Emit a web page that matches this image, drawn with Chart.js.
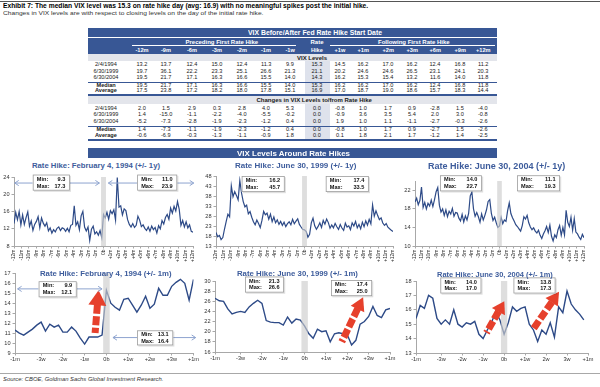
<!DOCTYPE html>
<html><head><meta charset="utf-8">
<script src="https://cdn.jsdelivr.net/npm/chart.js@4.4.0/dist/chart.umd.min.js"></script>
<style>
html,body{margin:0;padding:0;width:600px;height:387px;overflow:hidden;background:#fff;}
.a{position:absolute;white-space:nowrap;font-family:"Liberation Sans",Arial,sans-serif;}
canvas{position:absolute;}
</style></head><body>
<script>
// ---------------- DATA ----------------
const tableCols = ['-12m','-9m','-6m','-3m','-2m','-1m','-1w','Hike','+1w','+1m','+2m','+3m','+6m','+9m','+12m'];
const rowLabels = ['2/4/1994','6/30/1999','6/30/2004','Median','Average'];
const levels1994 = [13.2,13.7,12.4,15.0,12.4,11.3,9.9,15.3,14.5,16.2,17.0,16.2,12.4,16.8,11.2];
const levels1999 = [19.7,36.1,22.2,23.3,25.1,26.6,21.3,21.1,20.2,24.6,24.6,26.5,23.1,24.1,20.3];
const levels2004 = [19.5,21.7,17.1,16.3,16.6,15.5,14.0,14.3,16.2,15.3,15.4,13.2,11.6,14.0,11.8];
const levelsMedian = [19.5,21.7,17.1,16.3,16.6,15.5,14.0,15.3,16.2,16.2,17.0,16.2,12.4,16.8,11.8];
const levelsAverage = [17.5,23.8,17.2,18.2,18.0,17.8,15.1,16.9,17.0,18.7,19.0,18.6,15.7,18.3,14.4];
const changes1994 = [2.0,1.5,2.9,0.3,2.8,4.0,5.3,0.0,-0.8,1.0,1.7,0.9,-2.8,1.5,-4.0];
const changes1999 = [1.4,-15.0,-1.1,-2.2,-4.0,-5.5,-0.2,0.0,-0.9,3.6,3.5,5.4,2.0,3.0,-0.8];
const changes2004 = [-5.2,-7.3,-2.8,-1.9,-2.3,-1.2,0.4,0.0,1.9,1.0,1.1,-1.1,-2.7,-0.3,-2.6];
const changesMedian = [1.4,-7.3,-1.1,-1.9,-2.3,-1.2,0.4,0.0,-0.8,1.0,1.7,0.9,-2.7,1.5,-2.6];
const changesAverage = [-0.6,-6.9,-0.3,-1.3,-1.1,-0.9,1.8,0.0,0.1,1.8,2.1,1.7,-1.2,1.4,-2.5];

// weekly VIX, 52 weeks before, hike week, 52 weeks after
const vix1994Year = [13.2,15.8,14.1,16.0,12.9,15.2,13.0,14.6,15.9,12.6,13.8,11.6,13.0,13.7,14.8,12.2,14.5,13.3,12.6,13.4,11.5,12.2,11.0,11.8,11.3,12.1,12.4,11.6,12.2,12.0,11.4,12.1,11.3,12.8,13.0,17.3,12.8,13.6,11.8,15.0,16.0,12.4,11.5,12.4,9.3,11.9,12.6,10.8,11.3,10.5,11.6,9.9,
 15.3,
 14.5,15.8,14.2,16.2,15.5,16.4,14.0,23.9,17.0,17.3,15.2,16.6,16.2,14.1,13.0,12.4,13.2,12.3,12.8,14.9,14.0,12.5,12.9,12.1,11.6,12.4,11.4,12.6,11.8,12.3,11.0,12.7,12.0,13.9,13.1,14.6,15.3,14.2,16.8,15.6,17.2,16.1,18.3,16.5,12.8,13.9,12.4,13.6,12.2,12.9,11.4,11.2];
const vix1999Year = [19.7,17.6,18.3,16.2,17.2,21.5,25.3,28.9,27.6,43.0,37.6,40.2,38.3,36.1,45.7,39.5,35.2,32.6,33.4,29.1,30.2,27.4,25.1,23.6,26.0,24.3,22.2,25.8,30.3,28.6,29.4,26.4,28.9,25.2,27.5,24.6,26.1,23.8,25.3,23.3,24.9,22.7,24.2,25.1,23.6,26.3,24.1,25.4,26.6,23.8,22.5,21.3,
 21.1,
 20.2,17.4,18.8,24.6,26.9,23.1,21.4,22.8,24.6,22.3,25.8,23.9,26.5,24.7,21.9,23.5,22.1,24.3,22.6,21.3,23.7,22.0,20.8,24.4,22.5,23.1,21.2,24.6,23.0,25.3,22.1,23.8,21.6,24.9,22.7,25.6,23.4,26.3,24.1,33.5,27.9,30.6,28.2,26.2,27.1,24.5,23.3,24.2,22.4,21.6,20.9,20.3];
const vix2004Year = [19.5,20.3,18.9,19.8,22.7,18.3,19.4,18.0,19.2,18.6,19.9,18.5,20.0,21.7,22.6,18.8,17.3,18.0,16.6,17.8,16.3,17.5,16.9,18.1,16.4,17.2,17.1,16.0,15.4,16.8,15.2,16.5,15.6,17.0,20.8,21.6,18.0,16.4,17.2,16.3,15.1,16.9,15.6,16.6,17.8,19.6,20.0,17.0,15.5,16.2,15.0,14.0,
 14.3,
 16.2,14.8,15.6,15.3,17.6,19.3,17.0,16.1,15.4,14.6,14.2,13.7,13.2,14.4,16.3,15.8,16.6,15.0,14.1,13.5,13.9,13.2,12.8,13.4,12.3,11.6,12.6,13.3,14.2,12.9,14.5,12.1,11.1,12.4,11.8,13.5,14.4,12.3,14.0,12.4,17.7,15.1,14.2,16.2,13.4,15.9,13.0,12.6,11.9,11.4,12.5,11.8];

// daily VIX, 21 trading days before the hike to ~1 month after
const vix1994Month = [11.3,11.0,10.8,11.1,11.4,11.8,12.1,11.2,11.9,11.6,11.8,11.1,11.1,11.6,11.2,10.5,9.9,10.6,10.6,10.6,10.8,
 15.3,
 14.0,13.6,13.3,14.4,14.5,13.8,13.1,13.8,14.7,13.5,13.9,15.5,14.8,14.8,15.7,16.1,16.4,16.0,14.3,16.4];
const vix1999Month = [26.6,26.1,26.0,24.5,23.5,23.8,24.0,23.8,24.9,25.6,26.2,25.6,22.2,21.9,21.8,21.8,21.3,22.9,21.7,22.5,22.3,
 21.1,
 19.6,18.7,20.5,20.0,20.2,18.0,19.6,19.8,19.6,19.4,17.4,18.3,21.5,22.0,23.0,25.0,23.2,22.8,24.3,24.6];
const vix2004Month = [15.4,16.3,16.1,17.0,16.8,15.4,15.0,15.3,15.0,16.0,15.0,14.8,15.1,15.0,15.2,14.3,14.0,14.6,15.1,15.9,15.3,
 14.3,
 15.1,16.2,15.9,16.1,16.2,15.0,14.6,13.8,14.6,14.3,15.1,14.1,16.2,15.8,17.3,16.4,16.0,15.7,15.3];

const minMax1994Year = [[9.3,17.3],[11.0,23.9]];
const minMax1999Year = [[16.2,45.7],[17.4,33.5]];
const minMax2004Year = [[14.0,22.7],[11.1,19.3]];
const minMax1994Month = [[9.9,12.1],[13.1,16.4]];
const minMax1999Month = [[21.3,26.6],[17.4,25.0]];
const minMax2004Month = [[14.0,17.0],[13.8,17.3]];

const monthTickLabels = ['-12m','-11m','-10m','-9m','-8m','-7m','-6m','-5m','-4m','-3m','-2m','-1m','0b','+1m','+2m','+3m','+4m','+5m','+6m','+7m','+8m','+9m','+10m','+11m','+12m'];
const dayTickLabels = ['-1m','-3w','-2w','-1w','0b','+1w','+2w','+3w','+1m'];
const dayTickLabels2004 = ['-1m','-3w','-2w','-1w','0b','+1w','2w','3w','+1m'];
const dayTickValues = [-21,-15,-10,-5,0,5,10,15,20];
const yTicks1994Year = [8,10,12,14,16,18,20,22,24];
const yTicks1999Year = [13,18,23,28,33,38,43,48];
const yTicks2004Year = [10,12,14,16,18,20,22,24];
const yTicks1994Month = [9,10,11,12,13,14,15,16,17];
const yTicks1999Month = [16,18,20,22,24,26,28,30];
const yTicks2004Month = [13,14,15,16,17,18];

// ---------------- STYLE ----------------
const FONT = '"Liberation Sans", Arial, sans-serif';
const HDR = '#385795', LINE = '#2D4A87', AX = '#A8A8A8', TITLE = '#3D5C9C', RED = '#E6402C', GUIDE = '#8EA4CF';

function T(text, o){
  const d = document.createElement('div');
  d.className = 'a'; d.textContent = text;
  d.style.fontSize = o.f + 'px'; d.style.lineHeight = o.f + 'px';
  if (o.bold) d.style.fontWeight = 'bold';
  if (o.italic) d.style.fontStyle = 'italic';
  d.style.color = o.color || '#1a1a1a';
  d.style.zIndex = 5;
  document.body.appendChild(d);
  const aw = d.offsetWidth;
  let w = aw;
  if (o.w){ d.style.transformOrigin = '0 0'; d.style.transform = 'scaleX(' + (o.w/aw) + ')'; w = o.w; }
  const left = (o.cx != null) ? o.cx - w/2 : o.x;
  d.style.left = left + 'px';
  const top = (o.base != null) ? o.base - 0.85*o.f : o.cy - 0.49*o.f;
  d.style.top = top + 'px';
  return d;
}
function R(x,y,w,h,c){
  const d = document.createElement('div');
  d.style.cssText = `position:absolute;left:${x}px;top:${y}px;width:${w}px;height:${h}px;background:${c};`;
  document.body.appendChild(d);
}

// headline
R(0,1,600,1,'#555');
T('Exhibit 7: The median VIX level was 15.3 on rate hike day (avg: 16.9) with no meaningful spikes post the initial hike.',{x:3,base:8.4,f:6.6,w:365,bold:true,color:'#000'});
T('Changes in VIX levels are with respect to closing levels on the day of the initial rate hike.',{x:3,base:15.9,f:5.9,w:261,color:'#333'});

// ---------------- TABLE ----------------
const colX = [142,166,192,217,242,266,290,317,340,363,388,412,435,460,483];
const labX = 106;
R(88,28,409,9,HDR); R(88,37.8,409,16.2,HDR);
R(132,45,164,0.8,'#fff'); R(330,45,165,0.8,'#fff');
T('VIX Before/After Fed Rate Hike Start Date',{cx:315,base:35.3,f:6.6,w:134,bold:true,color:'#fff'});
T('Preceding First Rate Hike',{cx:222,base:43.6,f:6.0,bold:true,color:'#fff'});
T('Rate',{cx:317,base:43.6,f:6.0,bold:true,color:'#fff'});
T('Following First Rate Hike',{cx:414,base:43.6,f:6.0,bold:true,color:'#fff'});
tableCols.forEach((c,i)=>T(c,{cx:colX[i],base:52.6,f:5.6,bold:true,color:'#fff'}));
R(88,54,409,7,'#E3E5EB');
R(305,61,25,79,'#DEE2EC');
T('VIX Levels',{cx:312,base:59.9,f:6.0,bold:true});
R(88,95.5,409,8,'#E3E5EB');
T('Changes in VIX Levels to/from Rate Hike',{cx:314,base:102.3,f:6.0,bold:true});
R(88,81.6,409,1.5,HDR); R(88,94,409,1.5,HDR); R(88,125.8,409,1.5,HDR); R(88,139.4,409,1.5,HDR);
function tableRows(rows, ys){
  rows.forEach((vals,r)=>{
    const bold = r >= 3;
    T(rowLabels[r],{cx:labX,cy:ys[r],f:5.6,bold:bold});
    vals.forEach((v,i)=>T(v.toFixed(1),{cx:colX[i],cy:ys[r],f:5.6}));
  });
}
tableRows([levels1994,levels1999,levels2004,levelsMedian,levelsAverage],[65,71.5,78,85.7,91.2]);
tableRows([changes1994,changes1999,changes2004,changesMedian,changesAverage],[108.6,115,121.5,130.2,135.9]);

R(88,148.2,409,10.3,HDR);
T('VIX Levels Around Rate Hikes',{cx:293,base:156,f:7.2,w:113,bold:true,color:'#fff'});

// ---------------- CHARTS ----------------
function overlay(ov){
  return {
    id:'ov',
    afterDatasetsDraw(chart){
      const ctx = chart.ctx, xs = chart.scales.x, ys = chart.scales.y, ca = chart.chartArea;
      ctx.save();
      const b0 = xs.getPixelForValue(-ov.band), b1 = xs.getPixelForValue(ov.band);
      ctx.fillStyle = 'rgba(205,205,205,0.65)';
      ctx.fillRect(b0, ca.top, b1-b0, ca.bottom-ca.top);
      (ov.red||[]).forEach(a=>{
        const x0=xs.getPixelForValue(a[0]), y0=ys.getPixelForValue(a[1]), x1=xs.getPixelForValue(a[2]), y1=ys.getPixelForValue(a[3]);
        const bw=a[4], hw=a[5], hl=a[6];
        const dx=x1-x0, dy=y1-y0, L=Math.hypot(dx,dy), ux=dx/L, uy=dy/L, px=-uy, py=ux;
        const hx=x1-ux*hl, hy=y1-uy*hl;
        ctx.strokeStyle=RED; ctx.lineWidth=bw; ctx.lineCap='butt'; ctx.setLineDash([9,2.5]);
        ctx.beginPath(); ctx.moveTo(hx+ux*0.5,hy+uy*0.5); ctx.lineTo(x0,y0); ctx.stroke();
        ctx.setLineDash([]);
        ctx.fillStyle=RED; ctx.beginPath(); ctx.moveTo(x1,y1);
        ctx.lineTo(hx+px*hw/2, hy+py*hw/2); ctx.lineTo(hx-px*hw/2, hy-py*hw/2); ctx.closePath(); ctx.fill();
      });
      const boxPx = ov.boxes.map(b=>{
        const cx=xs.getPixelForValue(b.x), cy=ys.getPixelForValue(b.y);
        return {x0:cx-b.w/2, x1:cx+b.w/2, cy:cy, y0:cy-b.h/2, w:b.w, h:b.h, mm:b.mm};
      });
      (ov.guides||[]).forEach(g=>{
        const bp = boxPx[g.box];
        const xa = g.side < 0 ? bp.x0 : bp.x1;
        const xb = xs.getPixelForValue(g.to), y = ys.getPixelForValue(g.y);
        const dir = Math.sign(xb-xa);
        ctx.strokeStyle=GUIDE; ctx.lineWidth=1;
        ctx.beginPath(); ctx.moveTo(xa,y); ctx.lineTo(xb,y); ctx.stroke();
        ctx.beginPath(); ctx.moveTo(xb-dir*4,y-2.6); ctx.lineTo(xb,y); ctx.lineTo(xb-dir*4,y+2.6); ctx.stroke();
      });
      boxPx.forEach(b=>{
        ctx.fillStyle='rgba(0,0,0,0.13)'; ctx.fillRect(b.x0+1.2,b.y0+1.2,b.w,b.h);
        ctx.fillStyle='#fff'; ctx.fillRect(b.x0,b.y0,b.w,b.h);
        ctx.strokeStyle='#9c9c9c'; ctx.lineWidth=0.8; ctx.strokeRect(b.x0+0.4,b.y0+0.4,b.w-0.8,b.h-0.8);
        ctx.fillStyle='#111'; ctx.font='bold 5.6px '+FONT; ctx.textBaseline='middle';
        ctx.textAlign='left';
        ctx.fillText('Min:', b.x0+4, b.cy-3.4); ctx.fillText('Max:', b.x0+4, b.cy+3.4);
        ctx.textAlign='right';
        ctx.fillText(b.mm[0].toFixed(1), b.x1-4.5, b.cy-3.4); ctx.fillText(b.mm[1].toFixed(1), b.x1-4.5, b.cy+3.4);
      });
      ctx.restore();
    }
  };
}

function mkChart(s){
  const c = document.createElement('canvas');
  c.width = s.w; c.height = s.h;
  c.style.left = s.left+'px'; c.style.top = s.top+'px'; c.style.width = s.w+'px'; c.style.height = s.h+'px';
  document.body.appendChild(c);
  const pts = s.values.map((v,i)=>({x:s.xOf(i), y:v}));
  new Chart(c, {
    type:'line',
    data:{datasets:[{data:pts, borderColor:LINE, borderWidth:s.lw, pointRadius:0, tension:0, fill:false}]},
    options:{
      responsive:false, animation:false, devicePixelRatio:1,
      layout:{padding:{left:0,right:s.padR,top:s.padT,bottom:0}},
      plugins:{legend:{display:false}, tooltip:{enabled:false}},
      scales:{
        x:{type:'linear', min:s.xmin, max:s.xmax,
          afterBuildTicks:(sc)=>{ sc.ticks = s.tickVals.map(v=>({value:v})); },
          afterFit:(sc)=>{ sc.height = s.axH; },
          ticks:{autoSkip:false, maxRotation:s.rot, minRotation:s.rot, padding:1, color:'#333',
            font:{size:s.xfs, family:FONT}, callback:(v,i)=>s.tickLabels[i]},
          grid:{display:true, drawOnChartArea:false, drawTicks:true, tickLength:2.5, color:AX},
          border:{display:true, color:AX, width:1}},
        y:{type:'linear', min:s.yTicks[0], max:s.yTicks[s.yTicks.length-1],
          afterBuildTicks:(sc)=>{ sc.ticks = s.yTicks.map(v=>({value:v})); },
          afterFit:(sc)=>{ sc.width = s.axW; },
          ticks:{padding:2, color:'#333', font:{size:5.6, family:FONT}},
          grid:{display:true, drawOnChartArea:false, drawTicks:true, tickLength:2.5, color:AX},
          border:{display:true, color:AX, width:1}}
      }
    },
    plugins:[overlay(s.ov)]
  });
}

const monthTickValues = monthTickLabels.map((_,i)=>i-12);
const weekToMonth = (i)=> (i-52)*12/52;
const dayIndex = (i)=> i-21;
const topBase = {top:170, h:97, axH:21, xmin:-12, xmax:12, xOf:weekToMonth, tickVals:monthTickValues, tickLabels:monthTickLabels, rot:90, xfs:5, lw:1.2};
const botBase = {top:268, h:100, xmin:-21, xmax:20, xOf:dayIndex, tickVals:dayTickValues, rot:0, xfs:5.6, lw:1.4};

mkChart(Object.assign({}, topBase, {left:0, w:200, axW:14, padT:7, padR:6, values:vix1994Year, yTicks:yTicks1994Year,
  ov:{band:0.33,
    boxes:[{x:-7.0,y:22.7,w:37,h:16,mm:minMax1994Year[0]},{x:7.2,y:22.7,w:40,h:16,mm:minMax1994Year[1]}],
    guides:[{box:0,side:-1,to:-11.9,y:22.6},{box:0,side:1,to:-0.55,y:22.6},{box:1,side:-1,to:0.65,y:22.6},{box:1,side:1,to:12.1,y:22.6}]}}));
mkChart(Object.assign({}, topBase, {left:195, w:205, axW:21, padT:6, padR:6, values:vix1999Year, yTicks:yTicks1999Year,
  ov:{band:0.33, boxes:[{x:-5.6,y:44.0,w:43,h:16,mm:minMax1999Year[0]},{x:5.8,y:44.0,w:43,h:16,mm:minMax1999Year[1]}]}}));
mkChart(Object.assign({}, topBase, {left:395, w:205, axW:20, padT:11, padR:16, values:vix2004Year, yTicks:yTicks2004Year,
  ov:{band:0.33, boxes:[{x:-5.47,y:23.5,w:42,h:16,mm:minMax2004Year[0]},{x:5.54,y:23.5,w:43,h:16,mm:minMax2004Year[1]}]}}));

mkChart(Object.assign({}, botBase, {left:0, w:200, axW:15, padT:4.7, padR:6, axH:15, values:vix1994Month, yTicks:yTicks1994Month, tickLabels:dayTickLabels,
  ov:{band:0.75,
    boxes:[{x:-11.2,y:15.4,w:38,h:16,mm:minMax1994Month[0]},{x:11.2,y:10.52,w:36,h:15,mm:minMax1994Month[1]}],
    guides:[{box:0,side:-1,to:-20.4,y:15.44},{box:0,side:1,to:-1.0,y:15.44},{box:1,side:-1,to:1.5,y:10.55},{box:1,side:1,to:20.5,y:10.55}],
    red:[[-2.6,11.0,-1.8,15.3,7,18,15]]}}));
mkChart(Object.assign({}, botBase, {left:195, w:205, axW:20, padT:13, padR:10, axH:16, values:vix1999Month, yTicks:yTicks1999Month, tickLabels:dayTickLabels,
  ov:{band:0.75,
    boxes:[{x:-9.4,y:29.3,w:39,h:16,mm:minMax1999Month[0]},{x:11.0,y:28.6,w:41,h:16,mm:minMax1999Month[1]}],
    red:[[8.7,18.0,13.7,26.8,7,15,13]]}}));
mkChart(Object.assign({}, botBase, {left:395, w:205, axW:21, padT:13, padR:12, axH:15, values:vix2004Month, yTicks:yTicks2004Month, tickLabels:dayTickLabels2004,
  ov:{band:0.75,
    boxes:[{x:-10.3,y:17.69,w:41,h:16,mm:minMax2004Month[0]},{x:7.25,y:17.69,w:42,h:16,mm:minMax2004Month[1]}],
    red:[[-4.2,14.4,0.05,16.6,7,15,12],[6.8,14.6,13.1,17.26,7,15,13]]}}));

// chart titles
T('Rate Hike: February 4, 1994 (+/- 1y)',{x:32,base:168.6,f:7.6,w:128,bold:true,color:TITLE});
T('Rate Hike: June 30, 1999 (+/- 1y)',{x:235,base:168.6,f:7.6,w:121,bold:true,color:TITLE});
T('Rate Hike: June 30, 2004 (+/- 1y)',{x:428,base:169.2,f:8.4,w:137,bold:true,color:TITLE});
T('Rate Hike: February 4, 1994 (+/- 1m)',{x:40,base:276.8,f:7.6,w:132,bold:true,color:TITLE});
T('Rate Hike: June 30, 1999 (+/- 1m)',{x:237,base:276.8,f:7.6,w:121,bold:true,color:TITLE});
T('Rate Hike: June 30, 2004 (+/- 1m)',{x:437,base:276.8,f:7.4,w:116,bold:true,color:TITLE});

// footer
R(0,373,600,1,'#A8A8A8');
T('Source: CBOE, Goldman Sachs Global Investment Research.',{x:3,base:381.6,f:5.9,w:160,italic:true,color:'#333'});
</script>
</body></html>
